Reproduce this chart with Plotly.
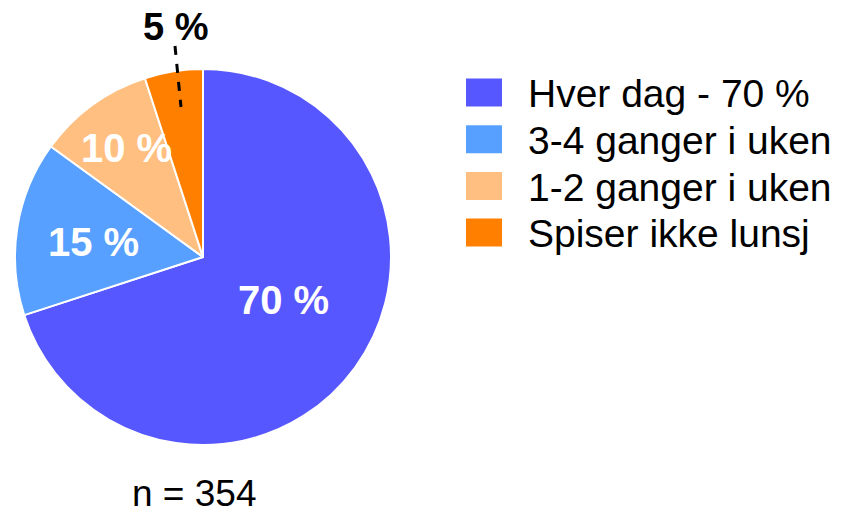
import plotly.graph_objects as go

# The page body has an 8 px default margin; design in reference pixels and offset.
OFF = 8
W, H = 851 - OFF, 512 - OFF

categories = ["Hver dag", "3-4 ganger i uken", "1-2 ganger i uken", "Spiser ikke lunsj"]
values = [70, 15, 10, 5]
legend_labels = ["Hver dag - 70 %", "3-4 ganger i uken", "1-2 ganger i uken", "Spiser ikke lunsj"]
colors = ["#5757FF", "#57A0FF", "#FFBF80", "#FF8000"]
n_text = "n = 354"

FONT = "Liberation Sans, Arial, Helvetica, sans-serif"

def px(x):
    return (x - OFF) / W

def py(y):
    return 1 - (y - OFF) / H

fig = go.Figure(go.Pie(
    labels=categories,
    values=values,
    sort=False,
    direction="clockwise",
    rotation=0,
    marker=dict(colors=colors, line=dict(color="white", width=2)),
    textinfo="none",
    hoverinfo="label+percent",
    showlegend=False,
    domain=dict(x=[px(15), px(391)], y=[py(445), py(69)]),
))

annotations = []
# slice labels
label_pos = [(283, 300, "white", 40), (93, 242, "white", 40), (127, 148, "white", 40), (175, 27, "black", 38)]
for v, (x, y, c, s) in zip(values, label_pos):
    annotations.append(dict(
        x=px(x), y=py(y), xref="paper", yref="paper",
        text=f"<b>{v} %</b>", showarrow=False,
        xanchor="center", yanchor="middle",
        font=dict(family=FONT, size=s, color=c),
    ))

# n label
annotations.append(dict(
    x=px(194), y=py(493), xref="paper", yref="paper",
    text=n_text, showarrow=False, xanchor="center", yanchor="middle",
    font=dict(family=FONT, size=37, color="black"),
))

shapes = []
# leader line for small slice
shapes.append(dict(type="line", xref="paper", yref="paper",
                   x0=px(175), y0=py(46), x1=px(181), y1=py(107),
                   line=dict(color="black", width=3, dash="dash")))

# legend
row_y = [92.5, 139.2, 186, 232.5]
for lab, col, y in zip(legend_labels, colors, row_y):
    shapes.append(dict(type="rect", xref="paper", yref="paper",
                       x0=px(466), x1=px(502), y0=py(y - 14), y1=py(y + 14),
                       fillcolor=col, line=dict(width=0)))
    annotations.append(dict(
        x=px(526), y=py(y + 1), xref="paper", yref="paper",
        text=lab, showarrow=False, xanchor="left", yanchor="middle",
        font=dict(family=FONT, size=39, color="black"),
    ))

fig.update_layout(
    width=W, height=H,
    margin=dict(l=0, r=0, t=0, b=0),
    paper_bgcolor="white", plot_bgcolor="white",
    showlegend=False,
    annotations=annotations,
    shapes=shapes,
)

fig.write_html("out.html")
